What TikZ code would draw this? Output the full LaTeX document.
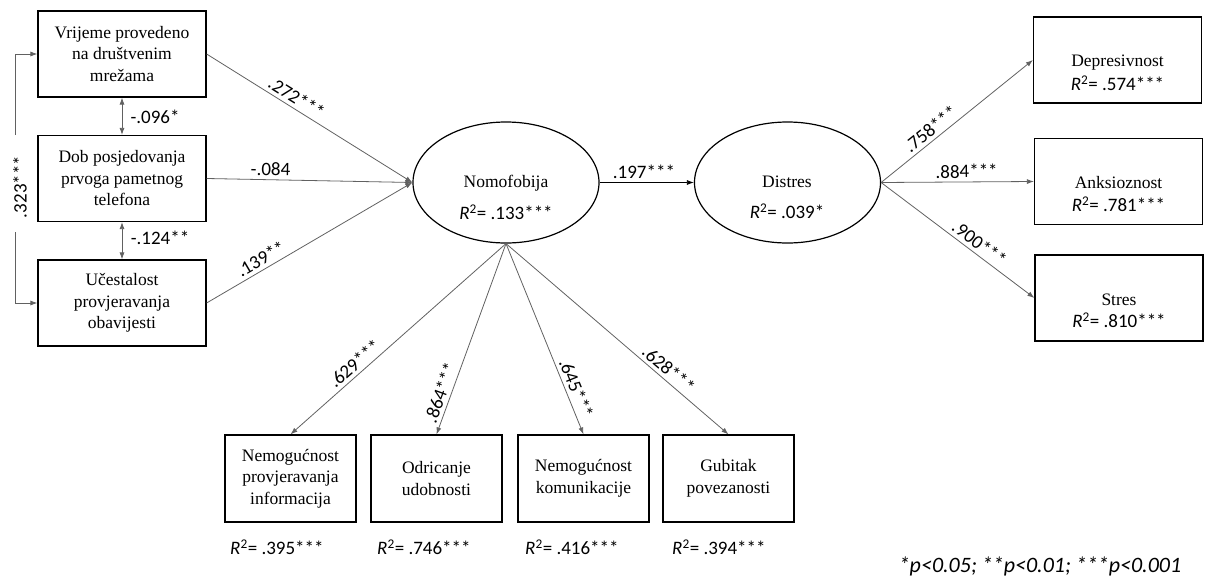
\documentclass[tikz,border=0pt]{standalone}
\usepackage{fontspec}
\setmainfont{Liberation Serif}
\newfontfamily\carl{Carlito}
\usetikzlibrary{arrows.meta,shapes.geometric}
\newcommand\rsq{{\itshape R}\textsuperscript{2}}
\tikzset{
  box/.style={draw=black, line width=1.2pt, minimum width=168pt, minimum height=86pt,
    inner sep=0pt, align=center, font=\fontsize{17.5}{21.5}\selectfont},
  sbox/.style={box, minimum width=131pt, minimum height=87pt},
  lat/.style={draw=black, line width=1.2pt, ellipse, minimum width=186pt,
    minimum height=121pt, inner sep=0pt},
  txt/.style={align=center, font=\fontsize{17.5}{21.5}\selectfont, inner sep=0pt},
  coef/.style={font=\carl\fontsize{19}{22}\selectfont, inner sep=0pt},
  slab/.style={coef, sloped, above=3.5pt},
  conn/.style={draw=black!62, line width=0.8pt, -{Latex[length=7pt,width=5pt]}},
  dbl/.style={draw=black!62, line width=0.8pt, {Latex[length=7pt,width=5pt]}-{Latex[length=7pt,width=5pt]}},
}
\begin{document}
\begin{tikzpicture}[x=1pt,y=-1pt]
\useasboundingbox (0,0) rectangle (1205,578);

% left exogenous boxes
\node[box] (vr)  at (122,54)    {Vrijeme provedeno\\na društvenim\\mrežama};
\node[box] (dob) at (122,178.5) {Dob posjedovanja\\prvoga pametnog\\telefona};
\node[box] (uc)  at (122,303)   {Učestalost\\provjeravanja\\obavijesti};

% latent variables
\node[lat] (nomo) at (506,182.5) {};
\node[txt] (nomot) at (506,183) {Nomofobija};
\node[coef] (nomor) at (506,212) {\rsq= .133***};
\node[lat] (dis) at (787.5,182.5) {};
\node[txt] (dist) at (787,182) {Distres};
\node[coef] (disr) at (787,211) {\rsq= .039*};

% right indicator boxes
\node[box] (dep)  at (1117.5,60)   {};
\node[txt] (dept) at (1117.5,63)   {Depresivnost};
\node[coef] (depr) at (1117.5,83)  {\rsq= .574***};
\node[box] (anks) at (1118.5,181.5) {};
\node[txt] (ankt) at (1118.5,183)  {Anksioznost};
\node[coef] (ankr) at (1118.5,204) {\rsq= .781***};
\node[box] (str)  at (1119,298)    {};
\node[txt] (strt) at (1119,300)    {Stres};
\node[coef] (strr) at (1119,320)   {\rsq= .810***};

% bottom indicator boxes
\node[sbox] (nim) at (290.5,478.5) {Nemogućnost\\provjeravanja\\informacija};
\node[sbox] (odr) at (436.5,478.5) {Odricanje\\udobnosti};
\node[sbox] (nko) at (583.5,478.5) {Nemogućnost\\komunikacije};
\node[sbox] (gub) at (728.5,478.5) {Gubitak\\povezanosti};
\node[coef, anchor=west] (nimr) at (230,547) {\rsq= .395***};
\node[coef, anchor=west] (odrr) at (377,547) {\rsq= .746***};
\node[coef, anchor=west] (nkor) at (525,547) {\rsq= .416***};
\node[coef, anchor=west] (gubr) at (672,547) {\rsq= .394***};

% covariances
\coordinate (g1) at (15,135);
\coordinate (g2) at (15,232);
\draw[conn] (g1) |- (vr.west);
\draw[conn] (g2) |- (uc.west);
\node[coef, rotate=90] (c323) at (20,187) {.323***};
\draw[dbl] (vr.south) -- (dob.north);
\draw[dbl] (dob.south) -- (uc.north);
\node[coef] (c096) at (155,117) {-.096*};
\node[coef] (c124) at (160,238) {-.124**};

% paths into Nomofobija
\draw[conn] (vr.east) -- node[slab, pos=0.41] (c272) {.272***} (nomo.west);
\draw[conn] (dob.east) -- node[slab, pos=0.31] (c084) {-.084} (nomo.west);
\draw[conn] (uc.east) -- node[slab, pos=0.29] (c139) {.139**} (nomo.west);

% structural path
\draw[conn, draw=black] (nomo.east) -- node[slab, pos=0.47] (c197) {.197***} (dis.west);

% Distres indicators
\draw[conn] (dis.east) -- node[slab, pos=0.37] (c758) {.758***} (dep.west);
\draw[conn] (dis.east) -- node[slab, pos=0.56] (c884) {.884***} (anks.west);
\draw[conn] (dis.east) -- node[slab, pos=0.60] (c900) {.900***} (str.west);

% Nomofobija indicators
\draw[conn] (nomo.south) -- node[slab, pos=0.67] (c629) {.629***} (nim.north);
\draw[conn] (nomo.south) -- node[slab, pos=0.80] (c864) {.864***} (odr.north);
\draw[conn] (nomo.south) -- node[slab, pos=0.78] (c645) {.645***} (nko.north);
\draw[conn] (nomo.south) -- node[slab, pos=0.70] (c628) {.628***} (gub.north);

% legend
\node[font=\carl\itshape\fontsize{22}{26}\selectfont, inner sep=0pt] (leg) at (1040,566) {*p<0.05; **p<0.01; ***p<0.001};
\end{tikzpicture}
\end{document}
